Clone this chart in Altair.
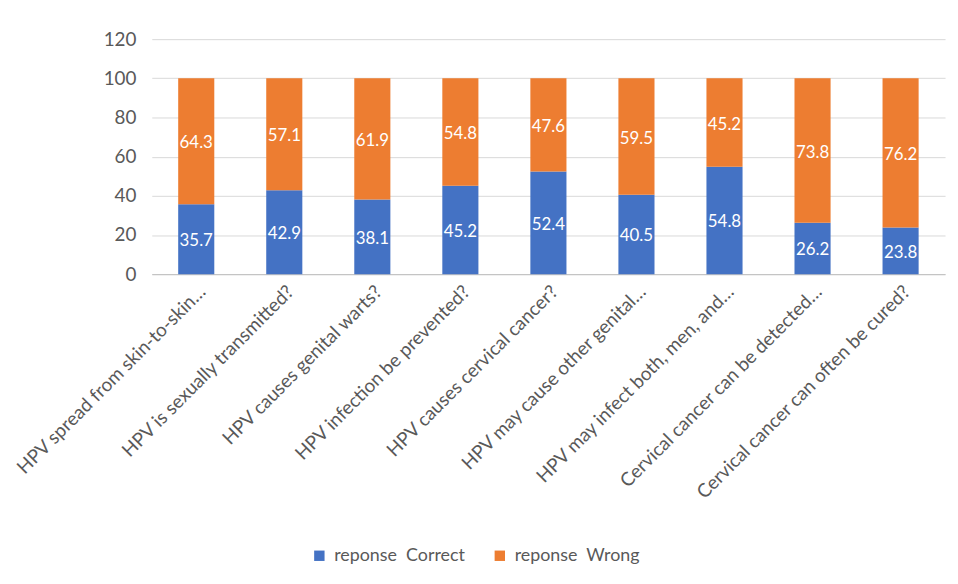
import altair as alt
import pandas as pd

questions = [
    "HPV spread from skin-to-skin…",
    "HPV is sexually transmitted?",
    "HPV causes genital warts?",
    "HPV infection be prevented?",
    "HPV causes cervical cancer?",
    "HPV may cause other genital…",
    "HPV may infect both, men, and…",
    "Cervical cancer can be detected…",
    "Cervical cancer can often be cured?",
]
correct = [35.7, 42.9, 38.1, 45.2, 52.4, 40.5, 54.8, 26.2, 23.8]
wrong = [64.3, 57.1, 61.9, 54.8, 47.6, 59.5, 45.2, 73.8, 76.2]
series = ["reponse\u00a0 Correct", "reponse\u00a0 Wrong"]
colors = ["#4472C4", "#ED7D31"]
y_ticks = [0, 20, 40, 60, 80, 100, 120]

rows = []
for q, c, w in zip(questions, correct, wrong):
    rows.append({"q": q, "s": series[0], "v": c, "o": 0, "start": 0, "end": c})
    rows.append({"q": q, "s": series[1], "v": w, "o": 1, "start": c, "end": c + w})
df = pd.DataFrame(rows)
df["mid"] = (df["start"] + df["end"]) / 2
df["lbl"] = df["v"].map(lambda x: f"{x:.1f}")

FONT = "Lato"
yscale = alt.Scale(domain=[0, 120])
xscale = alt.Scale(paddingInner=0.59, paddingOuter=0.3)

xaxis = alt.Axis(labelAngle=-45, labelLimit=500, labelFontSize=19,
                 labelColor="#595959", labelFont=FONT, ticks=False,
                 domainColor="#BFBFBF", labelPadding=8)
yaxis = alt.Axis(values=y_ticks, domain=False, tickCount=7,
                 ticks=False, labelFontSize=19, labelColor="#595959",
                 labelFont=FONT, gridColor="#D9D9D9", labelPadding=16,
                 labelOverlap=False)

bars = alt.Chart(df).mark_bar().encode(
    x=alt.X("q:N", sort=questions, title=None, scale=xscale, axis=xaxis),
    y=alt.Y("start:Q", title=None, scale=yscale, axis=yaxis),
    y2="end:Q",
    color=alt.Color("s:N", scale=alt.Scale(domain=series, range=colors),
                    legend=alt.Legend(title=None, orient="none", direction="horizontal",
                                      legendX=160, legendY=512, symbolType="square",
                                      symbolSize=110, labelFontSize=18, labelFont=FONT,
                                      labelColor="#595959", columnPadding=26,
                                      symbolStrokeWidth=0, labelOffset=6)),
    order=alt.Order("o:Q"),
)

labels = alt.Chart(df).mark_text(color="white", fontSize=17, font=FONT, dy=2).encode(
    x=alt.X("q:N", sort=questions, title=None, scale=xscale, axis=xaxis),
    y=alt.Y("mid:Q", title=None, scale=yscale, axis=yaxis),
    text="lbl:N",
)

chart = alt.layer(bars, labels).properties(
    width=800, height=237,
    autosize=alt.AutoSizeParams(type="none"),
    padding={"left": 145, "top": 29, "right": 5, "bottom": 302},
).configure(background="white", view=alt.ViewConfig(strokeWidth=0, stroke="transparent"))

chart.save("out.html", embed_options={"renderer": "svg", "actions": False})
